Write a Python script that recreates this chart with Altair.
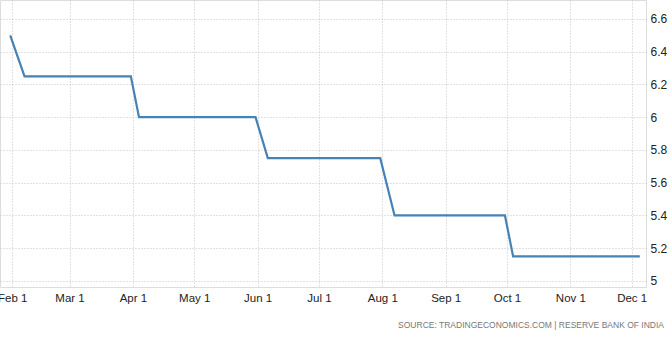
import altair as alt
import pandas as pd

dates = ["2019-01-31", "2019-02-07", "2019-03-31", "2019-04-04", "2019-05-31",
         "2019-06-06", "2019-07-31", "2019-08-07", "2019-09-30", "2019-10-04",
         "2019-10-31", "2019-11-30", "2019-12-05"]
rates = [6.5, 6.25, 6.25, 6.0, 6.0, 5.75, 5.75, 5.40, 5.40, 5.15, 5.15, 5.15, 5.15]
tick_months = [2, 3, 4, 5, 6, 7, 8, 9, 10, 11, 12]
y_ticks = [5.0, 5.2, 5.4, 5.6, 5.8, 6.0, 6.2, 6.4, 6.6]
source_text = "SOURCE: TRADINGECONOMICS.COM  |  RESERVE BANK OF INDIA"

df = pd.DataFrame({"date": dates, "rate": rates})

font = "Liberation Sans"
grid_color = "#c4c4c4"

x_enc = alt.X(
    "date:T",
    scale=alt.Scale(
        type="utc",
        domain=[alt.DateTime(year=2019, month=1, date=26, utc=True),
                alt.DateTime(year=2019, month=12, date=8, utc=True)],
    ),
    axis=alt.Axis(
        values=[alt.DateTime(year=2019, month=m, date=1, utc=True) for m in tick_months],
        format="%b %-d",
        title=None,
        grid=True,
        gridColor=grid_color,
        gridDash=[1, 2],
        gridWidth=1,
        ticks=False,
        domain=False,
        labelFont=font,
        labelFontSize=11.5,
        labelColor="#222222",
        labelPadding=5,
        labelFlush=False,
        labelOverlap=False,
    ),
)

y_enc = alt.Y(
    "rate:Q",
    scale=alt.Scale(domain=[4.963, 6.716], nice=False, zero=False),
    axis=alt.Axis(
        orient="right",
        values=y_ticks,
        format="~g",
        title=None,
        grid=True,
        gridColor=grid_color,
        gridDash=[1, 2],
        gridWidth=1,
        ticks=False,
        domain=False,
        labelFont=font,
        labelFontSize=12,
        labelColor="#222222",
        labelPadding=4,
        labelFlush=False,
        labelOverlap=False,
    ),
)

line = alt.Chart(df).mark_line(color="#4682b4", strokeWidth=2.2, interpolate="linear").encode(
    x=x_enc, y=y_enc
)

src = alt.Chart(pd.DataFrame({"t": [source_text]})).mark_text(
    align="right", baseline="middle", font=font, fontSize=8.5, color="#777777"
).encode(x=alt.value(664), y=alt.value(325), text="t:N")

chart = alt.layer(line, src).properties(
    width=646,
    height=287,
    autosize=alt.AutoSizeParams(type="none"),
    padding={"left": 0, "top": 0, "right": 26, "bottom": 53},
).configure_view(stroke=None).configure(background="white")

chart.save("out.html", embed_options={"renderer": "svg", "actions": False})
